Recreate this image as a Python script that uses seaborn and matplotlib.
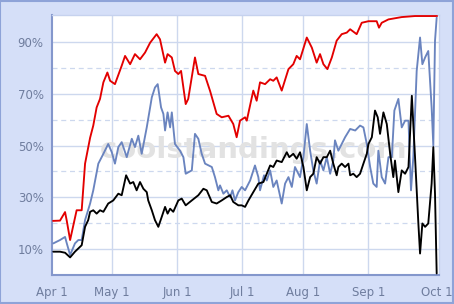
import numpy as np
import pandas as pd
import matplotlib
matplotlib.use("Agg")
import matplotlib.pyplot as plt
import seaborn as sns

# ---- data (x = day of season, y = percent) ----
red_x = [0.5, 3.8, 6.2, 7.0, 8.6, 11.7, 14.1, 15.7, 18.1, 19.6, 21.2, 22.8, 24.4, 26.3, 27.6, 29.9,
         33.1, 34.7, 37.1, 39.4, 41.8, 44.2, 46.6, 49.7, 51.3, 53.7, 54.9, 56.9, 58.4, 60.0, 61.3,
         63.5, 64.7, 67.9, 69.5, 72.7, 75.1, 78.2, 80.6, 83.8, 86.1, 87.7, 89.3, 91.7, 92.5, 95.6,
         97.2, 98.8, 101.2, 103.6, 105.1, 106.7, 109.1, 112.3, 114.6, 116.2, 117.8, 121.0, 123.4,
         125.7, 127.3, 128.9, 130.8, 132.9, 135.2, 137.6, 140.0, 141.6, 144.7, 147.1, 150.3, 154.2,
         155.3, 156.6, 159.8, 166.1, 172.4, 182.9]
red_y = [20.9, 21, 24.3, 21, 13.5, 25, 25, 43, 53, 57.7, 64.7, 68, 74.4, 78.2, 75, 73.7,
         80.8, 84.6, 81.4, 85.3, 83.3, 85.9, 89.7, 93, 91, 82, 85.3, 84, 78.8, 77.6, 78.8,
         66, 68, 84, 77.6, 76.9, 71, 62.2, 60.9, 61.5, 58.3, 53.2, 59.6, 60.9, 59.6, 71.2,
         67.3, 74.4, 73.7, 75.6, 75, 76.3, 71.2, 79.5, 81.4, 84.6, 83.3, 91.7, 87.8,
         82, 85.3, 81.4, 79.5, 84, 90.5, 93, 93.6, 94.9, 93, 97.4, 98, 98,
         95.5, 97.4, 98.7, 99.6, 100, 100]

blue_x = [0.6, 3.8, 6.2, 7.0, 8.6, 10.9, 12.5, 14.1, 15.7, 18.1, 19.6, 22.0, 24.4, 26.7, 28.4, 29.9,
          31.5, 33.1, 35.5, 37.9, 39.4, 41.0, 42.6, 45.0, 46.6, 47.4, 48.9, 50.2, 51.8, 52.9, 53.7,
          54.9, 56.1, 56.9, 58.4, 60.8, 62.4, 63.5, 66.4, 67.9, 69.5, 71.1, 72.7, 75.9, 77.4, 79.0,
          79.8, 81.4, 83.0, 84.6, 85.7, 86.9, 88.5, 90.1, 91.7, 94.1, 96.4, 98.0, 98.8, 100.7, 102.0,
          103.6, 105.1, 106.7, 109.1, 110.7, 112.3, 113.9, 115.4, 117.8, 119.4, 121.0, 122.6, 124.1,
          125.7, 127.3, 128.9, 130.5, 132.1, 133.6, 134.4, 136.0, 137.6, 139.2, 141.6, 144.0, 146.3,
          147.9, 149.5, 151.1, 152.6, 154.2, 155.0, 156.6, 158.2, 159.8, 161.4, 162.6, 164.5, 166.1,
          167.7, 169.3, 170.5, 171.6, 173.2, 174.8, 175.9, 177.2, 178.7, 180.3, 181.1, 181.9, 182.7]
blue_y = [12.2, 13.5, 14.7, 12.3, 7.7, 12.2, 13.5, 13.5, 21.2, 27.6, 32.7, 43, 46.8, 50.6, 47.4, 43,
          49.4, 51.3, 45.5, 52.6, 49.4, 53.8, 46.8, 57, 64.7, 68.6, 72.4, 73.7, 64.7, 62.2, 55.8,
          62.8, 57, 62.8, 50.6, 48, 45.5, 39.1, 40.4, 54.5, 52.6, 46.8, 43, 41.7, 37.8, 32.7,
          34.6, 31.4, 32.7, 30.1, 32.7, 28.8, 32, 34, 32.7, 36.5, 42.3, 37.8, 32.7, 38.5, 36.5,
          40.4, 34, 36.5, 27.6, 35.3, 37.8, 34, 41.7, 37.8, 45.5, 58.3, 48, 40.4,
          35.3, 44.2, 40.4, 45.5, 39.1, 44.2, 52, 48, 50.6, 53.2, 56.4, 55.8, 57.7,
          57, 50.6, 41.7, 35.3, 34, 48, 37.8, 35.3, 45.5, 45.5, 63.5, 68, 57,
          59.6, 59.6, 32.7, 45.5, 78.8, 91.7, 81.4, 84, 86.5, 64.7, 50, 90.4, 99.4]

black_x = [0.6, 3.8, 6.2, 8.6, 10.9, 14.1, 15.7, 17.2, 18.1, 19.6, 21.2, 22.8, 24.4, 26.7, 29.1, 31.5,
           33.1, 35.2, 37.1, 38.6, 40.2, 41.8, 43.4, 45.0, 45.7, 47.4, 48.9, 50.5, 52.1, 53.7, 54.9,
           56.1, 57.6, 60.0, 61.6, 63.5, 66.4, 69.5, 71.9, 73.5, 75.9, 78.2, 80.6, 83.0, 84.6, 86.1,
           88.5, 90.1, 91.7, 93.3, 95.6, 98.0, 100.4, 102.0, 103.6, 105.1, 106.7, 109.1, 111.5, 112.7,
           114.6, 116.2, 117.8, 119.4, 121.0, 122.6, 124.1, 125.7, 127.3, 128.9, 130.5, 132.1, 133.6,
           135.2, 136.0, 137.6, 139.2, 140.8, 141.6, 143.1, 144.7, 146.3, 147.9, 149.5, 150.3, 151.9,
           153.4, 154.7, 155.8, 157.4, 159.0, 160.6, 162.1, 162.9, 164.5, 166.1, 167.7, 169.3, 170.9,
           172.5, 174.0, 174.8, 175.9, 177.2, 178.7, 180.3, 181.1, 181.9, 182.7]
black_y = [9, 9, 8.6, 6.8, 9, 11.5, 18.6, 21.2, 24.4, 25, 23.7, 25, 24.4, 27.6, 28.8, 31.4,
           30.8, 38.5, 35.3, 35.9, 32.7, 35.9, 33.3, 32, 28.8, 25, 21.2, 18.6, 22.4, 26.3, 23.7,
           25.6, 24.4, 28.8, 29.5, 26.9, 28.8, 30.8, 33.3, 32.7, 28.2, 27.6, 28.8, 30.1, 30.8, 28.2,
           26.9, 26.9, 26.3, 28.8, 32, 35.3, 35.9, 39.1, 42.3, 41.7, 44.2, 43.6, 47.4, 45.5,
           46.8, 44.9, 47.4, 41.7, 32.7, 37.8, 39.1, 45.5, 43, 45.5, 45.5, 48, 43,
           38.5, 41.7, 43, 41.7, 43, 38.5, 39.1, 37.8, 39.1, 43, 46.8, 50.6, 53.2,
           63.5, 60.9, 54.5, 62.8, 58.3, 46.8, 37.8, 44.2, 32, 40.4, 39.1, 41.7, 69.2,
           44.2, 19.9, 8.3, 19.9, 18.6, 19.9, 35.3, 49.4, 31.4, 0.6]

series_names = ["red", "blue", "black"]
tick_pos = [0, 28.4, 59.5, 90.4, 119.4, 150.3, 182.9]
tick_labels = ["Apr 1", "May 1", "Jun 1", "Jul 1", "Aug 1", "Sep 1", "Oct 1"]
y_major = [10, 30, 50, 70, 90]
y_minor = [20, 40, 60, 80]

frames = []
for name, xs, ys in zip(series_names, [red_x, blue_x, black_x], [red_y, blue_y, black_y]):
    frames.append(pd.DataFrame({"day": xs, "pct": ys, "team": name}))
df = pd.concat(frames, ignore_index=True)

sns.set_theme(style="white")
plt.rcParams['font.family'] = ['DejaVu Sans']

bg = "#d5dff8"
fig = plt.figure(figsize=(4.54, 3.04), dpi=100, facecolor=bg)
ax = fig.add_axes([52 / 454, 1 - 275 / 304, 387 / 454, 260 / 304])
ax.set_facecolor("white")

# figure border
fig.patches.append(plt.Rectangle((0.001, 0.002), 0.997, 0.995, transform=fig.transFigure,
                                 fill=False, edgecolor="#8ea3d8", linewidth=1.5))

# grid
grid_c = "#cdd8ee"
for v in y_major:
    ax.axhline(v, color=grid_c, lw=1.0, zorder=0)
for v in y_minor:
    ax.axhline(v, color=grid_c, lw=0.9, ls=(0, (4, 3)), zorder=0)
for v in tick_pos[1:-1]:
    ax.axvline(v, color=grid_c, lw=1.0, zorder=0)

# watermark
ax.text(0.52, 0.48, "coolstandings.com", transform=ax.transAxes, ha="center", va="center",
        fontsize=21, fontweight="bold", color="#e2e2e2", zorder=1)

palette = {"red": "#e30000", "blue": "#6a84bf", "black": "#000000"}
sns.lineplot(data=df, x="day", y="pct", hue="team", palette=palette, estimator=None,
             sort=False, linewidth=1.35, legend=False, ax=ax, zorder=3)

ax.set_xlim(0, 183.8)
ax.set_ylim(0, 100.4)
ax.set_xticks(tick_pos)
ax.set_xticklabels(tick_labels)
ax.set_yticks(y_major)
ax.set_yticklabels([f"{v}%" for v in y_major])
ax.set_xlabel("")
ax.set_ylabel("")
lab_c = "#6f7d9e"
ax.tick_params(axis="both", length=0, labelsize=8.5, colors=lab_c, pad=6)
ax.tick_params(axis="x", pad=8)

for s in ["left", "bottom"]:
    ax.spines[s].set_color("#8497cc")
    ax.spines[s].set_linewidth(1.5)
for s in ["top", "right"]:
    ax.spines[s].set_color("#c6d2ee")
    ax.spines[s].set_linewidth(1.0)

fig.savefig("out.png", dpi=100, facecolor=bg)
